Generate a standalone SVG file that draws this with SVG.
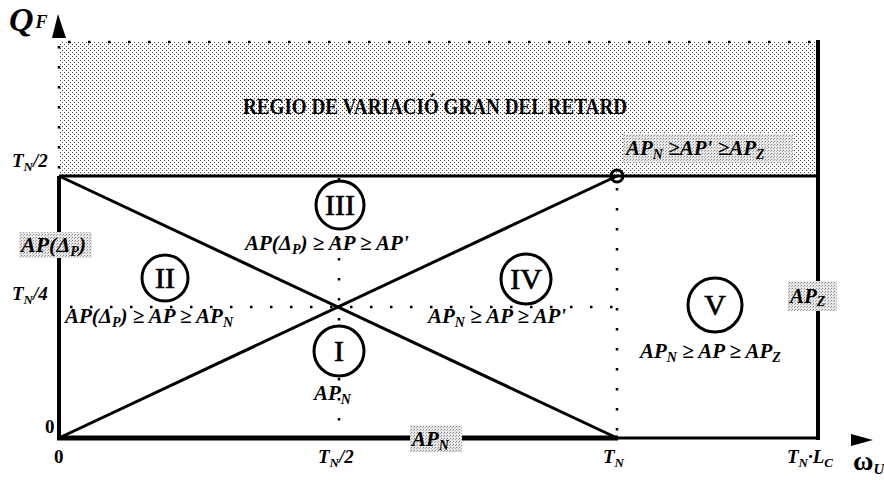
<svg xmlns="http://www.w3.org/2000/svg" width="884" height="480" viewBox="0 0 884 480">
<defs>
<pattern id="dots" width="4" height="4" patternUnits="userSpaceOnUse">
<rect width="4" height="4" fill="#ffffff"/>
<rect x="0" y="0" width="1" height="1" fill="#444"/>
<rect x="2" y="2" width="1" height="1" fill="#444"/>
</pattern>
<pattern id="dots2" width="3" height="3" patternUnits="userSpaceOnUse">
<rect width="3" height="3" fill="#e8e8e8"/>
<rect x="0" y="0" width="1" height="1" fill="#888"/>
<rect x="2" y="1" width="1" height="1" fill="#aaa"/>
</pattern>
</defs>
<style>
.t{font-family:"Liberation Serif","Times New Roman",serif;font-weight:bold;font-style:italic;fill:#000}
.r{font-family:"Liberation Serif","Times New Roman",serif;font-weight:bold;fill:#000}
.n{font-family:"Liberation Serif","Times New Roman",serif;font-weight:normal;fill:#000;stroke:#000;stroke-width:0.7;font-size:30px}
.heavy{stroke:#000;stroke-width:4;fill:none}
.mid{stroke:#000;stroke-width:3;fill:none}
.dot{stroke:#000;stroke-width:2.5;fill:none;stroke-dasharray:2.5 17.5}
.circ{stroke:#000;stroke-width:3;fill:#fff}
.box{fill:url(#dots2)}
</style>
<rect width="884" height="480" fill="#fff"/>
<rect x="59" y="41" width="759" height="135" fill="url(#dots)"/>
<g id="connectors">
<line class="dot" x1="68" y1="42" x2="818" y2="42"/>
<line class="dot" x1="59" y1="46" x2="59" y2="176"/>
<line class="heavy" x1="59" y1="176" x2="59" y2="438"/>
<line class="mid" x1="59" y1="176" x2="818" y2="176"/>
<line class="heavy" x1="818" y1="40" x2="818" y2="440"/>
<line x1="57" y1="438" x2="618" y2="438" stroke="#000" stroke-width="5"/>
<line class="mid" x1="617" y1="438" x2="818" y2="438"/>
<line class="mid" x1="59" y1="176" x2="617" y2="438"/>
<line class="mid" x1="59" y1="438" x2="617" y2="176"/>
<line class="dot" x1="70" y1="307" x2="617" y2="307"/>
<line class="dot" x1="339" y1="178" x2="339" y2="438"/>
<line class="dot" x1="617" y1="188" x2="617" y2="438"/>
<circle cx="617" cy="176" r="6" stroke="#000" stroke-width="3" fill="none"/>
<polygon points="58,14 52,38 66,38" fill="#000"/>
<polygon points="851,434 873,440 851,446" fill="#000"/>
</g>
<g id="axis-labels">
<text class="t" x="9" y="31" font-size="34">Q<tspan font-size="18" dx="2" dy="-3">F</tspan></text>
<text class="t" x="12" y="167" font-size="19">T<tspan font-size="13" dy="4">N</tspan><tspan dy="-4">/2</tspan></text>
<text class="t" x="12" y="300" font-size="19">T<tspan font-size="13" dy="4">N</tspan><tspan dy="-4">/4</tspan></text>
<text class="r" x="45" y="433" font-size="19">0</text>
<text class="r" x="54" y="463" font-size="19">0</text>
<text class="t" x="318" y="463" font-size="19">T<tspan font-size="13" dy="4">N</tspan><tspan dy="-4">/2</tspan></text>
<text class="t" x="603" y="463" font-size="19">T<tspan font-size="13" dy="4">N</tspan></text>
<text class="t" x="787" y="463" font-size="19">T<tspan font-size="13" dy="4">N</tspan><tspan dy="-4">·L</tspan><tspan font-size="13" dy="4">C</tspan></text>
<text class="r" x="853" y="470" font-size="28">ω<tspan font-size="15" dy="4" font-style="italic">U</tspan></text>
</g>
<g id="title">
<text class="r" x="243" y="114" font-size="23" textLength="384" lengthAdjust="spacingAndGlyphs">REGIO DE VARIACIÓ GRAN DEL RETARD</text>
</g>
<g id="box-top">
<rect class="box" x="623" y="134" width="170" height="29"/>
<text class="t" x="626" y="155" font-size="21">AP<tspan font-size="14" dy="4">N</tspan><tspan dy="-4"> ≥AP' ≥AP</tspan><tspan font-size="14" dy="4">Z</tspan></text>
</g>
<g id="box-left">
<rect class="box" x="19" y="232" width="73" height="26"/>
<text class="t" x="21" y="252" font-size="22">AP(Δ<tspan font-size="14" dy="4">P</tspan><tspan dy="-4">)</tspan></text>
</g>
<g id="box-right">
<rect class="box" x="788" y="281" width="49" height="30"/>
<text class="t" x="790" y="303" font-size="21">AP<tspan font-size="14" dy="3">Z</tspan></text>
</g>
<g id="box-bottom">
<rect class="box" x="410" y="425" width="52" height="27"/>
<text class="t" x="412" y="446" font-size="21">AP<tspan font-size="14" dy="4">N</tspan></text>
</g>
<g id="region-I">
<circle class="circ" cx="339" cy="351" r="25"/>
<text class="n" x="339" y="361" text-anchor="middle">I</text>
<text class="t" x="314" y="400" font-size="21">AP<tspan font-size="14" dy="4">N</tspan></text>
</g>
<g id="region-II">
<circle class="circ" cx="165" cy="278" r="23"/>
<text class="n" x="165" y="288" text-anchor="middle">II</text>
<text class="t" x="65" y="323" font-size="21">AP(Δ<tspan font-size="14" dy="4">P</tspan><tspan dy="-4">) ≥ AP ≥ AP</tspan><tspan font-size="14" dy="4">N</tspan></text>
</g>
<g id="region-III">
<circle class="circ" cx="340" cy="205" r="24"/>
<text class="n" x="340" y="215" text-anchor="middle">III</text>
<text class="t" x="245" y="250" font-size="21">AP(Δ<tspan font-size="14" dy="4">P</tspan><tspan dy="-4">) ≥ AP ≥ AP'</tspan></text>
</g>
<g id="region-IV">
<circle class="circ" cx="526" cy="279" r="25"/>
<text class="n" x="526" y="289" text-anchor="middle">IV</text>
<text class="t" x="428" y="323" font-size="21">AP<tspan font-size="14" dy="4">N</tspan><tspan dy="-4">  ≥ AP ≥ AP'</tspan></text>
</g>
<g id="region-V">
<circle class="circ" cx="715" cy="305" r="27"/>
<text class="n" x="715" y="315" text-anchor="middle">V</text>
<text class="t" x="640" y="358" font-size="21">AP<tspan font-size="14" dy="4">N</tspan><tspan dy="-4">  ≥ AP ≥ AP</tspan><tspan font-size="14" dy="4">Z</tspan></text>
</g>
</svg>
